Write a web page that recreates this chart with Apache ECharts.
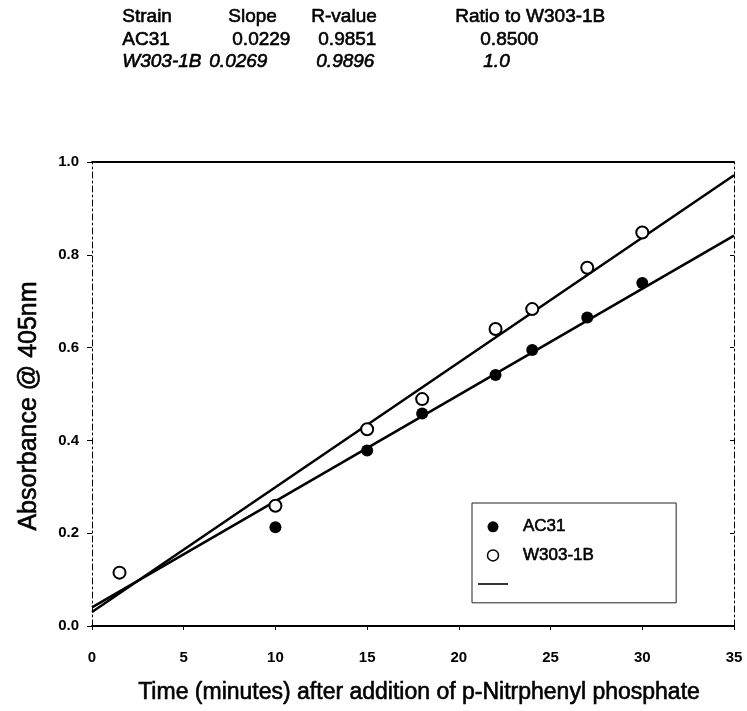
<!DOCTYPE html>
<html>
<head>
<meta charset="utf-8">
<script src="https://cdn.jsdelivr.net/npm/echarts@6/dist/echarts.min.js"></script>
<style>
  html, body { margin: 0; padding: 0; background: #fff; }
  #chart { width: 747px; height: 711px; }
</style>
</head>
<body>
<div id="chart"></div>
<script>
// Sampling times (minutes after substrate addition)
const times = [1.5, 10, 15, 18, 22, 24, 27, 30];
// Absorbance at 405 nm for each strain
const ac31 = [null, 0.213, 0.378, 0.458, 0.541, 0.595, 0.665, 0.739];
const w303 = [0.115, 0.259, 0.424, 0.489, 0.640, 0.683, 0.772, 0.848];

// Linear fit summary
const strains = ['AC31', 'W303-1B'];
const slopes = [0.0229, 0.0269];
const intercepts = [0.040, 0.030];
const rValues = ['0.9851', '0.9896'];
const ratios = ['0.8500', '1.0'];
const headers = ['Strain', 'Slope', 'R-value', 'Ratio to W303-1B'];

const fitRange = [0, 35];

const FONT = '"Liberation Sans", Arial, sans-serif';

function pairs(xs, ys) {
  return xs.map((x, i) => [x, ys[i]]).filter(p => p[1] != null);
}
function fitLine(k) {
  return fitRange.map(x => [x, intercepts[k] + slopes[k] * x]);
}

// Summary table above the plot
const colX = [122, 228, 311, 455];
const rowY = [18, 41, 63];
const tableText = [];
function cell(text, x, y, italic) {
  return {
    type: 'text', left: x, top: y - 11,
    style: {
      text: text, font: (italic ? 'italic ' : '') + '19px ' + FONT,
      fill: '#000', stroke: '#000', lineWidth: 0.6
    }
  };
}
headers.forEach((h, c) => tableText.push(cell(h, colX[c], rowY[0], false)));
const rowCells = [
  [strains[0], slopes[0].toFixed(4), rValues[0], ratios[0]],
  [strains[1], slopes[1].toFixed(4), rValues[1], ratios[1]]
];
const cellX = [[122, 232, 318, 480], [122, 209, 316, 483]];
rowCells.forEach((row, r) => row.forEach((t, c) =>
  tableText.push(cell(t, cellX[r][c], rowY[r + 1], r === 1))));

const heavy = { textBorderColor: '#000', textBorderWidth: 0.6 };

const chart = echarts.init(document.getElementById('chart'), null, { renderer: 'canvas' });
chart.setOption({
  animation: false,
  backgroundColor: '#fff',
  graphic: tableText,
  grid: { left: 92, right: 13, top: 162, bottom: 85 },
  legend: {
    orient: 'vertical',
    left: 472, top: 503,
    padding: [15, 82, 10, 6],
    itemGap: 11,
    itemWidth: 30, itemHeight: 11,
    borderColor: '#222', borderWidth: 1,
    textStyle: Object.assign({ fontFamily: FONT, fontSize: 17, color: '#000', padding: [0, 0, 0, 10] }, heavy),
    data: [
      { name: 'AC31', icon: 'circle', itemStyle: { color: '#000' } },
      { name: 'W303-1B', icon: 'circle',
        itemStyle: { color: '#fff', borderColor: '#000', borderWidth: 1.5 } },
      { name: ' ', icon: 'path://M0,0h30v1.6h-30z', itemStyle: { color: '#000' } }
    ]
  },
  xAxis: [{
    type: 'value', min: 0, max: 35, interval: 5,
    name: 'Time (minutes) after addition of p-Nitrphenyl phosphate',
    nameLocation: 'middle', nameGap: 55,
    nameTextStyle: Object.assign({ fontFamily: FONT, fontSize: 23, color: '#000', padding: [0, 0, 0, 12] }, heavy),
    axisLine: { lineStyle: { color: '#000', width: 1.8 } },
    axisTick: { show: true, length: 4, lineStyle: { color: '#000' } },
    axisLabel: { fontFamily: FONT, fontSize: 15, fontWeight: 'bold', color: '#000', margin: 24 },
    splitLine: { show: false }
  }, {
    type: 'value', min: 0, max: 35, interval: 5, position: 'top',
    axisLine: { show: true, onZero: false, lineStyle: { color: '#000', width: 1.8 } },
    axisTick: { show: false }, axisLabel: { show: false }, splitLine: { show: false }
  }],
  yAxis: [{
    type: 'value', min: 0, max: 1.0, interval: 0.2,
    name: 'Absorbance @ 405nm',
    nameLocation: 'middle', nameGap: 50,
    nameTextStyle: Object.assign({ fontFamily: FONT, fontSize: 25, color: '#000', padding: [0, 24, 0, 0] }, heavy),
    axisLine: { show: true, lineStyle: { color: '#000', width: 1, type: [6, 3, 2, 3] } },
    axisTick: { show: true, length: 5, lineStyle: { color: '#000' } },
    axisLabel: { fontFamily: FONT, fontSize: 15, fontWeight: 'bold', color: '#000', margin: 13,
      formatter: v => v.toFixed(1) },
    splitLine: { show: false }
  }, {
    type: 'value', min: 0, max: 1.0, interval: 0.2, position: 'right',
    axisLine: { show: true, onZero: false, lineStyle: { color: '#000', width: 1, type: [6, 3, 2, 3] } },
    axisTick: { show: true, inside: true, length: 4, lineStyle: { color: '#000' } },
    axisLabel: { show: false }, splitLine: { show: false }
  }],
  series: [
    {
      name: ' ', type: 'line', data: fitLine(1), showSymbol: false, symbol: 'none',
      lineStyle: { color: '#000', width: 2.5 }, itemStyle: { color: '#000' }, z: 2
    },
    {
      name: ' ', type: 'line', data: fitLine(0), showSymbol: false, symbol: 'none',
      lineStyle: { color: '#000', width: 2.5 }, itemStyle: { color: '#000' }, z: 2
    },
    {
      name: 'AC31', type: 'scatter', data: pairs(times, ac31),
      symbol: 'circle', symbolSize: 12,
      itemStyle: { color: '#000', opacity: 1 }, z: 3
    },
    {
      name: 'W303-1B', type: 'scatter', data: pairs(times, w303),
      symbol: 'circle', symbolSize: 12,
      itemStyle: { color: '#fff', borderColor: '#000', borderWidth: 2, opacity: 1 }, z: 3
    }
  ]
});
</script>
</body>
</html>
